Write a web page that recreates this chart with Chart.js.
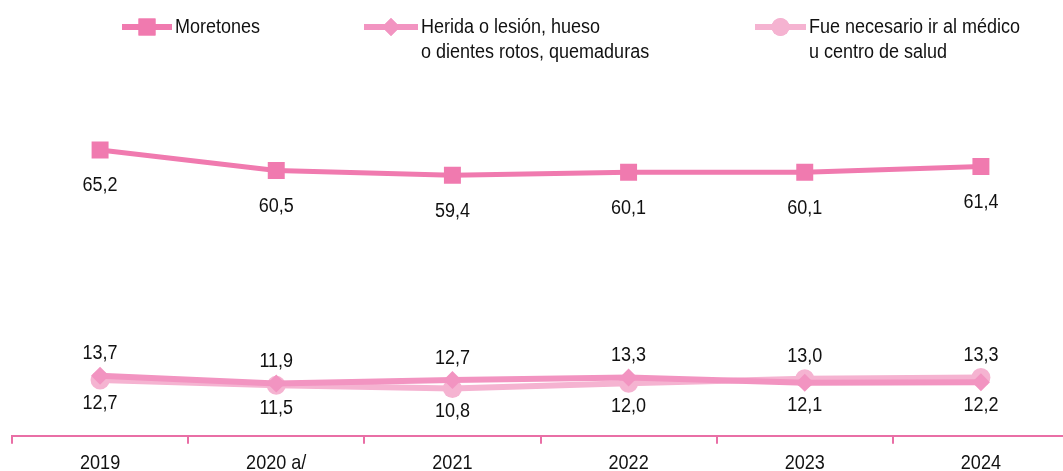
<!DOCTYPE html>
<html lang="es">
<head>
  <meta charset="UTF-8">
  <title>Consecuencias</title>
  <script src="https://cdn.jsdelivr.net/npm/chart.js"></script>
  <style>
    body { margin: 0; background: #fff; overflow: hidden; }
    .wrap { width: 1063px; height: 471px; overflow: hidden; }
  </style>
</head>
<body>
  <div class="wrap">
    <canvas id="chart" width="1081" height="480" style="width:1081px;height:480px"></canvas>
  </div>

  <script>
    // data
    const years = ["2019", "2020 a/", "2021", "2022", "2023", "2024"];
    const moretones = [65.2, 60.5, 59.4, 60.1, 60.1, 61.4];
    const herida = [13.7, 11.9, 12.7, 13.3, 12.1, 12.2];
    const medico = [12.7, 11.5, 10.8, 12.0, 13.0, 13.3];

    const seriesNames = [
      ["Moretones"],
      ["Herida o lesión, hueso", "o dientes rotos, quemaduras"],
      ["Fue necesario ir al médico", "u centro de salud"]
    ];

    const colors = ["#f07aaf", "#f294c1", "#f5b3d1"];
    const FONT = "'Liberation Sans', Arial, sans-serif";
    const fmt = v => v.toFixed(1).replace(".", ",");

    // the original uses a narrow face; squeeze regular text horizontally
    function narrowText(ctx, text, x, y, size, sx, align) {
      ctx.save();
      ctx.font = size + "px " + FONT;
      ctx.fillStyle = "#111";
      ctx.textAlign = align;
      ctx.textBaseline = "middle";
      ctx.translate(x, y);
      ctx.scale(sx, 1);
      ctx.fillText(text, 0, 0);
      ctx.restore();
    }

    // legend drawn by hand because of two-line labels
    const legendPlugin = {
      id: "legendDraw",
      afterDraw(chart) {
        const ctx = chart.ctx;
        const items = [
          { x0: 122, x1: 172, style: "rect", r: 12 },
          { x0: 364, x1: 418, style: "rectRot", r: 9 },
          { x0: 755, x1: 806, style: "circle", r: 9 }
        ];
        items.forEach((it, i) => {
          const y = 27;
          ctx.save();
          ctx.strokeStyle = colors[i];
          ctx.lineWidth = 6;
          ctx.beginPath();
          ctx.moveTo(it.x0, y);
          ctx.lineTo(it.x1, y);
          ctx.stroke();
          ctx.fillStyle = colors[i];
          Chart.helpers.drawPoint(ctx, { pointStyle: it.style, radius: it.r, borderWidth: 0 }, (it.x0 + it.x1) / 2, y);
          ctx.fill();
          ctx.restore();
          seriesNames[i].forEach((t, k) => narrowText(ctx, t, it.x1 + 3, y + k * 25, 20, 0.9, "left"));
        });
      }
    };

    // value labels: Moretones below, the two low series split above / below; axis labels too
    const labelPlugin = {
      id: "valueLabels",
      afterDatasetsDraw(chart) {
        const ctx = chart.ctx;
        const m0 = chart.getDatasetMeta(0).data;
        const m1 = chart.getDatasetMeta(1).data;
        const m2 = chart.getDatasetMeta(2).data;
        const xs = chart.scales.x;
        years.forEach((y, i) => {
          narrowText(ctx, fmt(moretones[i]), m0[i].x, m0[i].y + 36, 20, 0.9, "center");
          const hUp = herida[i] >= medico[i];
          const up = hUp ? m1[i] : m2[i];
          const dn = hUp ? m2[i] : m1[i];
          narrowText(ctx, fmt(hUp ? herida[i] : medico[i]), up.x, up.y - 22, 20, 0.9, "center");
          narrowText(ctx, fmt(hUp ? medico[i] : herida[i]), dn.x, dn.y + 23, 20, 0.9, "center");
          narrowText(ctx, y, xs.getPixelForValue(i), chart.chartArea.bottom + 27, 21, 0.86, "center");
        });
      }
    };

    const ctx = document.getElementById("chart").getContext("2d");
    new Chart(ctx, {
      type: "line",
      data: {
        labels: years,
        datasets: [
          { label: "Moretones", data: moretones, borderColor: colors[0], backgroundColor: colors[0], borderWidth: 5, pointStyle: "rect", pointRadius: 12, pointBorderWidth: 0, tension: 0 },
          { label: "Herida", data: herida, borderColor: colors[1], backgroundColor: colors[1], borderWidth: 6, pointStyle: "rectRot", pointRadius: 9, pointBorderWidth: 0, tension: 0 },
          { label: "Médico", data: medico, borderColor: colors[2], backgroundColor: colors[2], borderWidth: 6, pointStyle: "circle", pointRadius: 9.5, pointBorderWidth: 0, tension: 0 }
        ]
      },
      options: {
        responsive: false,
        animation: false,
        layout: { padding: { top: 85, left: 12, right: 0, bottom: 0 } },
        plugins: { legend: { display: false }, tooltip: { enabled: false } },
        scales: {
          x: {
            offset: true,
            grid: { offset: true, drawOnChartArea: false, drawTicks: true, tickLength: 8, color: "#e96fa6", lineWidth: 2 },
            border: { color: "#e96fa6", width: 2 },
            ticks: { color: "rgba(0,0,0,0)", font: { family: FONT, size: 18.5 }, padding: 7 }
          },
          y: { display: false, min: 0, max: 80 }
        }
      },
      plugins: [legendPlugin, labelPlugin]
    });
  </script>
</body>
</html>
